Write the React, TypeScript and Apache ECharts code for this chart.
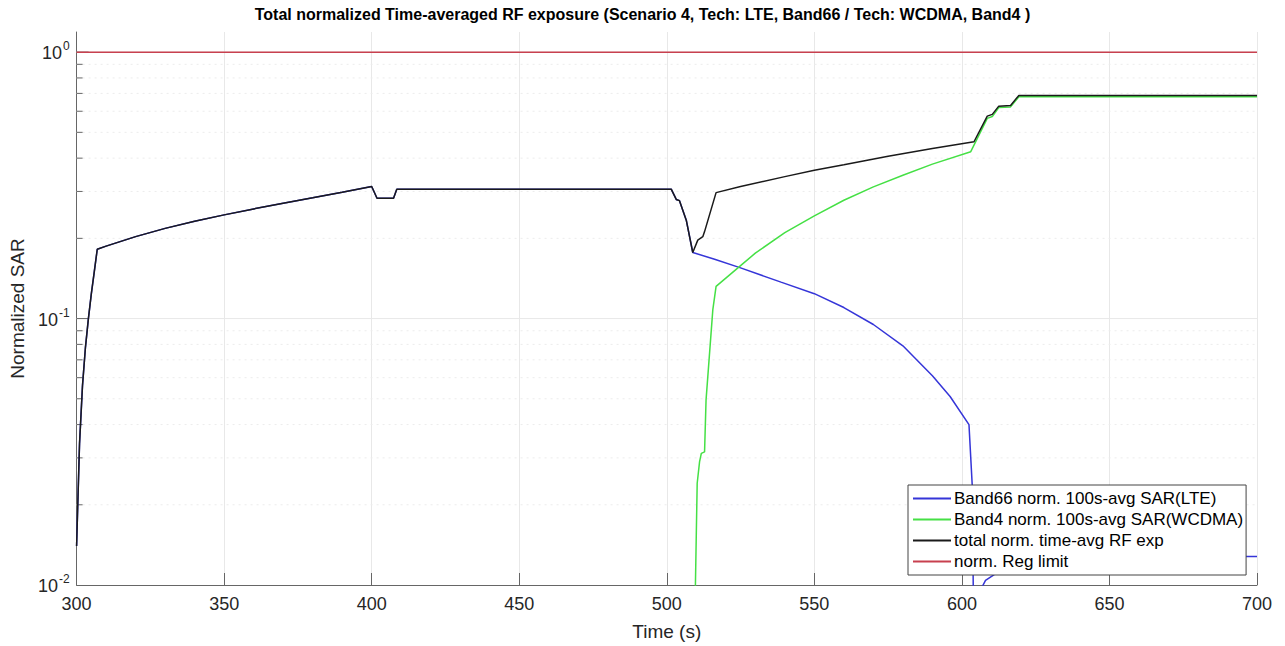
import React, { useEffect, useRef } from 'react';
import * as echarts from 'echarts';

const FONT = '"Liberation Sans", Arial, Helvetica, sans-serif';

const xMin = 300;
const xMax = 700;
const xTickInterval = 50;
const yMin = 0.01;
const yMax = 1.19;

const seriesNames = [
  'Band66 norm. 100s-avg SAR(LTE)',
  'Band4 norm. 100s-avg SAR(WCDMA)',
  'total norm. time-avg RF exp',
  'norm. Reg limit',
];

// Total normalized time-averaged RF exposure
const totalTime = [300, 301, 302, 303, 304, 305, 306, 307, 310, 320, 330, 340, 350, 360, 370, 380, 390, 400, 401.8, 407.4, 408.5, 420, 440, 460, 480, 501.5, 503.2, 504.3, 506.6, 508.8, 510.5, 512.2, 512.8, 516.7, 525, 540, 550, 560, 575, 590, 604.1, 608.6, 610.3, 612.5, 616.5, 619.3, 700];
const totalVal = [0.014, 0.034, 0.056, 0.078, 0.1, 0.124, 0.15, 0.182, 0.187, 0.203, 0.218, 0.232, 0.245, 0.258, 0.271, 0.284, 0.298, 0.313, 0.283, 0.283, 0.306, 0.306, 0.306, 0.306, 0.306, 0.306, 0.28, 0.277, 0.234, 0.177, 0.197, 0.203, 0.212, 0.297, 0.313, 0.341, 0.36, 0.378, 0.407, 0.435, 0.461, 0.575, 0.584, 0.627, 0.631, 0.688, 0.688];

// Band66 (LTE)
const lteTime = [300, 301, 302, 303, 304, 305, 306, 307, 310, 320, 330, 340, 350, 360, 370, 380, 390, 400, 401.8, 407.4, 408.5, 420, 440, 460, 480, 501.5, 503.2, 504.3, 506.6, 508.8, 516.2, 525, 538.7, 550, 560, 570, 580, 590, 596, 602.4, 603.5, 604.2, 606.5, 607, 608, 610.7, 615, 620, 700];
const lteVal = [0.014, 0.034, 0.056, 0.078, 0.1, 0.124, 0.15, 0.182, 0.187, 0.203, 0.218, 0.232, 0.245, 0.258, 0.271, 0.284, 0.298, 0.313, 0.283, 0.283, 0.306, 0.306, 0.306, 0.306, 0.306, 0.306, 0.28, 0.277, 0.234, 0.177, 0.167, 0.155, 0.137, 0.124, 0.11, 0.095, 0.079, 0.061, 0.051, 0.04, 0.0237, 0.004, 0.0085, 0.0099, 0.0104, 0.0109, 0.0118, 0.0128, 0.0128];

// Band4 (WCDMA)
const wcdmaTime = [509.5, 509.7, 510.0, 510.3, 511.1, 511.7, 512.8, 513.3, 515.6, 516.7, 525, 530, 540, 550, 560, 570, 580, 590, 603, 608.6, 610.3, 612.5, 616.5, 619.3, 700];
const wcdmaVal = [0.008, 0.01, 0.0156, 0.0241, 0.029, 0.0312, 0.0316, 0.0494, 0.108, 0.132, 0.158, 0.176, 0.21, 0.243, 0.278, 0.312, 0.345, 0.38, 0.423, 0.564, 0.573, 0.62, 0.623, 0.68, 0.68];

// Regulatory limit
const limitTime = [300, 700];
const limitVal = [1, 1];

// Y axis tick values
const majorYTicks = [0.1, 1];
const minorYTicks = [0.02, 0.03, 0.04, 0.05, 0.06, 0.07, 0.08, 0.09, 0.2, 0.3, 0.4, 0.5, 0.6, 0.7, 0.8, 0.9];

const zip = (t: number[], v: number[]) => t.map((x, i) => [x, v[i]]);

export default function App() {
  const ref = useRef<HTMLDivElement>(null);
  useEffect(() => {
    const chart = echarts.init(ref.current!, null, { renderer: 'svg' });
    const yTickData = [
      ...majorYTicks.map((v) => [xMin, v, 1]),
      ...minorYTicks.map((v) => [xMin, v, 0]),
    ];
    const option: any = {
      animation: false,
      backgroundColor: '#ffffff',
      textStyle: { fontFamily: FONT },
      title: {
        text: 'Total normalized Time-averaged RF exposure (Scenario 4, Tech: LTE, Band66 / Tech: WCDMA, Band4 )',
        left: 'center',
        top: 1,
        textStyle: { fontSize: 16, fontWeight: 'bold', color: '#000', fontFamily: FONT },
      },
      grid: { left: 74, right: 28, top: 32, bottom: 61, containLabel: false },
      legend: {
        data: seriesNames,
        orient: 'vertical',
        left: 908,
        top: 485,
        icon: 'rect',
        itemWidth: 38,
        itemHeight: 2,
        itemGap: 4,
        padding: [5, 3, 5, 5],
        backgroundColor: '#ffffff',
        borderColor: '#444',
        borderWidth: 1,
        borderRadius: 0,
        textStyle: { fontSize: 17, lineHeight: 17, color: '#000', fontFamily: FONT, padding: [0, 0, 0, -2] },
      },
      xAxis: {
        type: 'value',
        min: xMin,
        max: xMax,
        interval: xTickInterval,
        name: 'Time (s)',
        nameLocation: 'middle',
        nameGap: 37,
        nameTextStyle: { fontSize: 19, color: '#262626', fontFamily: FONT },
        axisLine: { show: true, onZero: false, lineStyle: { color: '#666', width: 1 } },
        axisTick: { show: true, inside: true, length: 12, lineStyle: { color: '#666' } },
        axisLabel: { fontSize: 18, color: '#262626', margin: 10, fontFamily: FONT },
        splitLine: { show: true, lineStyle: { color: '#e8e8e8', width: 1 } },
      },
      yAxis: {
        type: 'log',
        logBase: 10,
        min: yMin,
        max: yMax,
        name: 'Normalized SAR',
        nameLocation: 'middle',
        nameGap: 44,
        nameTextStyle: { fontSize: 19, color: '#262626', fontFamily: FONT },
        axisLine: { show: true, onZero: false, lineStyle: { color: '#666', width: 1 } },
        axisTick: { show: false },
        splitLine: { show: false },
        axisLabel: {
          margin: 7,
          showMaxLabel: false,
          formatter: (v: number) => {
            const l = Math.log10(v);
            const e = Math.round(l);
            if (Math.abs(l - e) > 1e-6) return '';
            return `{b|10}{s|${e}}`;
          },
          rich: {
            b: { fontSize: 18, color: '#262626', fontFamily: FONT, verticalAlign: 'bottom', lineHeight: 20 },
            s: { fontSize: 12, color: '#262626', fontFamily: FONT, verticalAlign: 'bottom', lineHeight: 12, padding: [0, 0, 10, 1] },
          },
        },
      },
      series: [
        {
          type: 'custom',
          name: 'ygrid',
          silent: true,
          z: 1,
          clip: false,
          data: yTickData,
          renderItem: (params: any, api: any) => {
            const v = api.value(1);
            const major = api.value(2) === 1;
            const p0 = api.coord([xMin, v]);
            const p1 = api.coord([xMax, v]);
            return {
              type: 'group',
              children: [
                {
                  type: 'line',
                  shape: { x1: p0[0], y1: p0[1], x2: p1[0], y2: p1[1] },
                  style: major
                    ? { stroke: '#e8e8e8', lineWidth: 1 }
                    : { stroke: '#ececec', lineWidth: 1, lineDash: [2, 4] },
                },
                {
                  type: 'line',
                  shape: { x1: p0[0], y1: p0[1], x2: p0[0] + (major ? 12 : 6), y2: p0[1] },
                  style: { stroke: '#666', lineWidth: 1 },
                },
              ],
            };
          },
        },
        {
          type: 'line',
          name: seriesNames[0],
          data: zip(lteTime, lteVal),
          symbol: 'none',
          lineStyle: { color: '#3535d8', width: 1.5 },
          itemStyle: { color: '#3535d8' },
          z: 3,
        },
        {
          type: 'line',
          name: seriesNames[1],
          data: zip(wcdmaTime, wcdmaVal),
          symbol: 'none',
          lineStyle: { color: '#45e045', width: 1.5 },
          itemStyle: { color: '#45e045' },
          z: 3,
        },
        {
          type: 'line',
          name: seriesNames[2],
          data: zip(totalTime, totalVal),
          symbol: 'none',
          lineStyle: { color: '#1a1a1a', width: 1.5 },
          itemStyle: { color: '#1a1a1a' },
          z: 3,
        },
        {
          type: 'line',
          name: seriesNames[3],
          data: zip(limitTime, limitVal),
          symbol: 'none',
          lineStyle: { color: '#c8404f', width: 1.5 },
          itemStyle: { color: '#c8404f' },
          z: 3,
        },
      ],
    };
    chart.setOption(option);
    return () => chart.dispose();
  }, []);
  return (
    <div
      ref={ref}
      style={{ position: 'absolute', left: 0, top: 0, width: 1285, height: 646, background: '#fff' }}
    />
  );
}
